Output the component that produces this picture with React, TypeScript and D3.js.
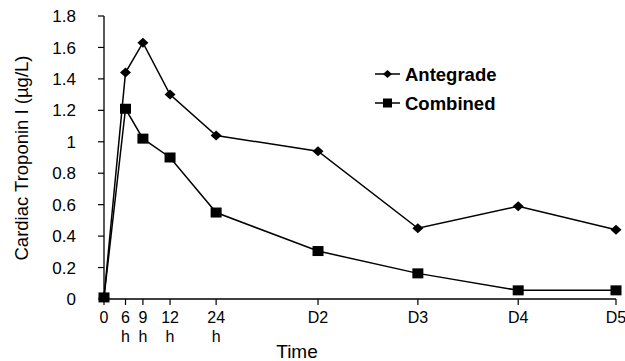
import React from 'react';
import * as d3 from 'd3';

// time points (hours after reperfusion) and their axis labels
const timeHours = [0, 6, 9, 12, 24, 48, 72, 96, 120];
const tickTop = ['0', '6', '9', '12', '24', 'D2', 'D3', 'D4', 'D5'];
const tickBottom = ['', 'h', 'h', 'h', 'h', '', '', '', ''];
// the original axis is not linear in time; relative tick positions
const tickFrac = [0, 0.042, 0.076, 0.129, 0.219, 0.418, 0.613, 0.809, 1];

const antegrade = [0.01, 1.44, 1.63, 1.3, 1.04, 0.94, 0.45, 0.59, 0.44];
const combined = [0.01, 1.21, 1.02, 0.9, 0.55, 0.305, 0.163, 0.055, 0.055];

const yTicks = [0, 0.2, 0.4, 0.6, 0.8, 1, 1.2, 1.4, 1.6, 1.8];

const W = 625;
const H = 361;
const margin = { top: 16, right: 9, bottom: 62, left: 104 };
const font = 'Liberation Sans, Arial, sans-serif';
const narrow = 'Liberation Sans Narrow, Arial Narrow, Liberation Sans, sans-serif';

const App = () => {
  const innerW = W - margin.left - margin.right;
  const innerH = H - margin.top - margin.bottom;

  const x = d3.scaleLinear()
    .domain(timeHours)
    .range(tickFrac.map(f => f * innerW));
  const y = d3.scaleLinear().domain([0, 1.8]).range([innerH, 0]);

  const line = d3.line<number>()
    .x((_, i) => x(timeHours[i]))
    .y(d => y(d));

  // wide diamond like the spreadsheet marker
  const diamond = 'M0,-5L5.5,0L0,5L-5.5,0Z';
  const smallDiamond = 'M0,-4L4.5,0L0,4L-4.5,0Z';

  return (
    <svg width={W} height={H} style={{ position: 'absolute', left: 0, top: 0 }}
      fontFamily={font}>
      <g transform={`translate(${margin.left},${margin.top})`}>
        {/* y axis */}
        <line x1={0} x2={0} y1={0} y2={innerH} stroke="#000" strokeWidth={1.3} />
        {yTicks.map(t => (
          <g key={t} transform={`translate(0,${y(t)})`}>
            <line x1={-6} x2={0} stroke="#000" strokeWidth={1.2} />
            <text x={-28} dy="0.36em" textAnchor="end" fontSize={17}>{t}</text>
          </g>
        ))}
        {/* x axis */}
        <line x1={0} x2={innerW} y1={innerH} y2={innerH} stroke="#000" strokeWidth={1.3} />
        {timeHours.map((t, i) => (
          <g key={t} transform={`translate(${x(t)},${innerH})`}>
            <line y1={0} y2={6} stroke="#000" strokeWidth={1.2} />
            <text y={24} textAnchor="middle" fontSize={16} fontFamily={narrow}>{tickTop[i]}</text>
            {tickBottom[i] && <text y={43} textAnchor="middle" fontSize={16} fontFamily={narrow}>{tickBottom[i]}</text>}
          </g>
        ))}
        <text x={297 - margin.left} y={innerH + 59} textAnchor="middle" fontSize={19}>Time</text>

        {/* series */}
        <path d={line(antegrade) ?? ''} fill="none" stroke="#000" strokeWidth={1.5} />
        <path d={line(combined) ?? ''} fill="none" stroke="#000" strokeWidth={1.5} />
        {antegrade.map((v, i) => (
          <path key={'a' + i} d={diamond} transform={`translate(${x(timeHours[i])},${y(v)})`} fill="#000" />
        ))}
        {combined.map((v, i) => (
          <rect key={'c' + i} x={x(timeHours[i]) - 5.5} y={y(v) - 5} width={11} height={10} fill="#000" />
        ))}
      </g>

      {/* y label */}
      <text transform="translate(28,158) rotate(-90)" textAnchor="middle" fontSize={18.5}>
        Cardiac Troponin I (µg/L)
      </text>

      {/* legend */}
      <g transform="translate(375,74)">
        <line x1={0} x2={25} stroke="#000" strokeWidth={1.5} />
        <path d={smallDiamond} transform="translate(12.5,0)" fill="#000" />
        <text x={30} dy="0.36em" fontSize={18.5} fontWeight="bold">Antegrade</text>
      </g>
      <g transform="translate(375,103)">
        <line x1={0} x2={25} stroke="#000" strokeWidth={1.5} />
        <rect x={8} y={-4.5} width={9} height={9} fill="#000" />
        <text x={30} dy="0.36em" fontSize={18.5} fontWeight="bold">Combined</text>
      </g>
    </svg>
  );
};

export default App;
